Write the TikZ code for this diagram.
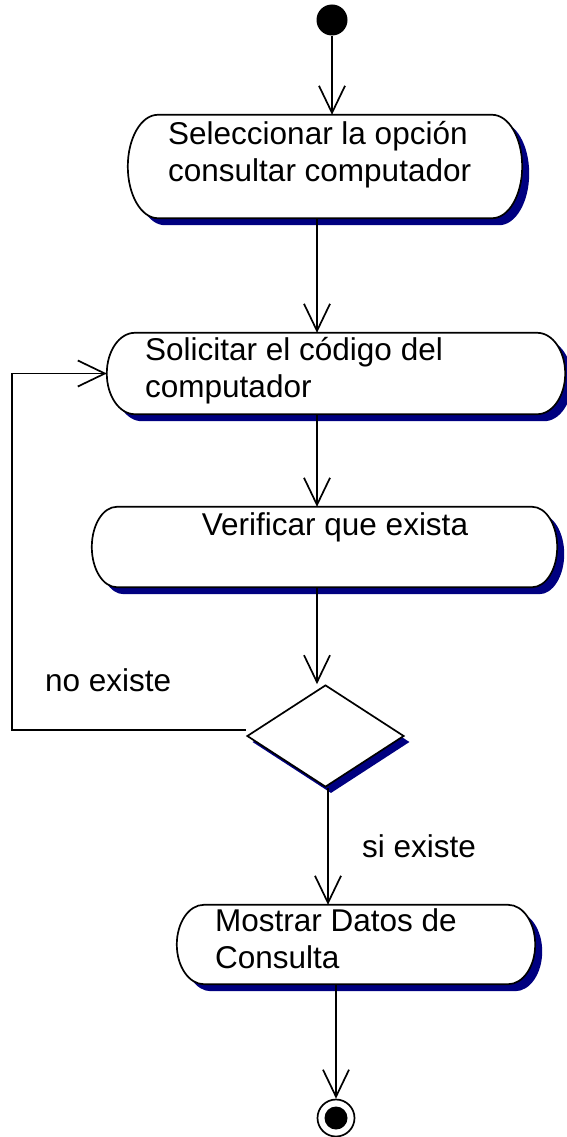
\documentclass[tikz,border=0pt]{standalone}
\usepackage{fontspec}
\setmainfont{Liberation Sans}
\usetikzlibrary{calc,shapes.geometric,arrows.meta}
\definecolor{shadowblue}{RGB}{0,0,128}

\newcommand\actshape[2]{%
  \fill[shadowblue, transform canvas={xshift=7pt,yshift=-7pt}]
    ($(#1.north west)+(#2,0)$) -- ($(#1.north east)+(-#2,0)$)
    .. controls ($(#1.north east)+(-0.448*#2,0)$) and ($(#1.east)!0.552!(#1.north east)$) .. (#1.east)
    .. controls ($(#1.east)!0.552!(#1.south east)$) and ($(#1.south east)+(-0.448*#2,0)$) .. ($(#1.south east)+(-#2,0)$)
    -- ($(#1.south west)+(#2,0)$)
    .. controls ($(#1.south west)+(0.448*#2,0)$) and ($(#1.west)!0.552!(#1.south west)$) .. (#1.west)
    .. controls ($(#1.west)!0.552!(#1.north west)$) and ($(#1.north west)+(0.448*#2,0)$) .. ($(#1.north west)+(#2,0)$) -- cycle;
  \draw[line width=1.7pt, fill=white]
    ($(#1.north west)+(#2,0)$) -- ($(#1.north east)+(-#2,0)$)
    .. controls ($(#1.north east)+(-0.448*#2,0)$) and ($(#1.east)!0.552!(#1.north east)$) .. (#1.east)
    .. controls ($(#1.east)!0.552!(#1.south east)$) and ($(#1.south east)+(-0.448*#2,0)$) .. ($(#1.south east)+(-#2,0)$)
    -- ($(#1.south west)+(#2,0)$)
    .. controls ($(#1.south west)+(0.448*#2,0)$) and ($(#1.west)!0.552!(#1.south west)$) .. (#1.west)
    .. controls ($(#1.west)!0.552!(#1.north west)$) and ($(#1.north west)+(0.448*#2,0)$) .. ($(#1.north west)+(#2,0)$) -- cycle;
}

\begin{document}
\begin{tikzpicture}[x=1pt,y=-1pt,
  actbox/.style={rectangle, draw=none, inner sep=0pt},
  lbl/.style={inner sep=0pt, align=left, font=\fontsize{31.5}{37}\selectfont},
  arr/.style={line width=1.7pt, -{Straight Barb[length=27pt,width=26pt,line width=1.7pt]}}
]
\useasboundingbox (0,0) rectangle (567,1137);

% start
\node[circle, fill=black, inner sep=0pt, minimum size=31pt] (s) at (332,20) {};

% activities
\node[actbox, minimum width=394pt, minimum height=103pt] (a1) at (325,166.5) {};
\actshape{a1}{30}
\node[lbl, anchor=base west] (t1) at (168,181) {Seleccionar la opción\\consultar computador};

\node[actbox, minimum width=458pt, minimum height=81pt] (a2) at (336,373.5) {};
\actshape{a2}{28}
\node[lbl, anchor=base west] (t2) at (145,397) {Solicitar el código del\\computador};

\node[actbox, minimum width=465pt, minimum height=80pt] (a3) at (324.5,547) {};
\actshape{a3}{25}
\node[lbl, anchor=base] (t3) at (335,535) {Verificar que exista};

% decision
\node[diamond, fill=shadowblue, inner sep=0pt, minimum width=157pt, minimum height=102pt] (ds) at (331,742) {};
\node[diamond, draw, fill=white, line width=1.7pt, inner sep=0pt, minimum width=157pt, minimum height=102pt] (d) at (325.5,736) {};

\node[actbox, minimum width=358pt, minimum height=79pt] (a4) at (356,944.5) {};
\actshape{a4}{27}
\node[lbl, anchor=base west] (t4) at (215,968) {Mostrar Datos de\\Consulta};

% end
\node[circle, draw, line width=1.7pt, inner sep=0pt, minimum size=37pt] (e) at (336,1118) {};
\node[circle, fill=black, inner sep=0pt, minimum size=23pt] (ei) at (e.center) {};

% connectors
\draw[arr] (s.south) -- (s.south |- a1.north);
\draw[arr] ([xshift=-8pt]a1.south) -- ([xshift=-8pt]a1.south |- a2.north);
\draw[arr] ([xshift=-19pt]a2.south) -- ([xshift=-19pt]a2.south |- a3.north);
\draw[arr] ([xshift=-7.5pt]a3.south) -- ([xshift=-7.5pt]a3.south |- d.north);
\draw[arr] ([yshift=6pt]d.west) -- ++(-234,0) |- (a2.west);
\draw[arr] ([xshift=2.5pt]d.south) -- ([xshift=2.5pt]d.south |- a4.north);
\draw[arr] ([xshift=-20pt]a4.south) -- ([xshift=-20pt]a4.south |- e.north);

% guard labels
\node[lbl, anchor=base west] (no) at (45,691) {no existe};
\node[lbl, anchor=base west] (si) at (362,857) {si existe};
\end{tikzpicture}
\end{document}
